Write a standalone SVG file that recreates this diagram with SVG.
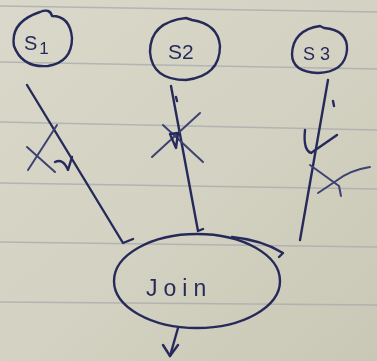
<svg xmlns="http://www.w3.org/2000/svg" width="377" height="361" viewBox="0 0 377 361">
  <defs>
    <linearGradient id="paper" x1="0" y1="0" x2="1" y2="1">
      <stop offset="0" stop-color="#d9d8ca"/>
      <stop offset="0.5" stop-color="#d4d2c2"/>
      <stop offset="1" stop-color="#c9c7b5"/>
    </linearGradient>
    <filter id="soft" x="-5%" y="-5%" width="110%" height="110%">
      <feGaussianBlur stdDeviation="0.6"/>
    </filter>
  </defs>
  <style>
    .rule { stroke: #a9acad; stroke-width: 1.3; fill: none; opacity: 0.8; }
    .ink { stroke: #272b5a; stroke-width: 2.4; fill: none; stroke-linecap: round; stroke-linejoin: round; }
    .mark { stroke: #3c4272; stroke-width: 2; fill: none; stroke-linecap: round; stroke-linejoin: round; }
    .label { font-family: "Liberation Sans", "DejaVu Sans", sans-serif; fill: #272b5a; }
  </style>

  <!-- ruled paper -->
  <rect width="377" height="361" fill="url(#paper)"/>
  <g id="rules">
    <path class="rule" d="M0 6 L377 12"/>
    <path class="rule" d="M0 62 L377 69"/>
    <path class="rule" d="M0 122 L377 130"/>
    <path class="rule" d="M0 183 L377 189"/>
    <path class="rule" d="M0 242 L377 247"/>
    <path class="rule" d="M0 302 L377 305"/>
  </g>

  <g filter="url(#soft)">
    <!-- connectors -->
    <g id="connectors">
      <!-- S1 to Join -->
      <path class="ink" d="M27 85 L123 243 L133 239"/>
      <path class="ink" d="M55 162 Q63 158 68 170 L72 157"/>
      <path class="mark" d="M27 147 L55 172"/>
      <path class="mark" d="M28 170 L57 125"/>
      <!-- S2 to Join -->
      <path class="ink" d="M171 86 L198 231 L203 229"/>
      <path class="ink" d="M176 97 L177 101"/>
      <path class="mark" d="M152 157 L200 113"/>
      <path class="mark" d="M163 125 L203 162"/>
      <path class="ink" d="M170 134 L176 148 L178 133 Z" stroke-width="2"/>
      <!-- S3 to Join -->
      <path class="ink" d="M328 80 L300 240"/>
      <path class="ink" d="M333 101 L334 106"/>
      <path class="ink" d="M305 130 Q303 150 311 153 L337 135"/>
      <path class="mark" d="M310 165 L339 186 L341 196"/>
      <path class="mark" d="M318 193 L336 181 Q350 170 370 167"/>
      <!-- stray stroke on Join -->
      <path class="ink" d="M232 237 Q262 240 283 253 L279 257"/>
      <!-- Join output -->
      <path class="ink" d="M178 328 L170 356"/>
      <path class="ink" d="M163 345 L170 356 L178 345"/>
    </g>

    <!-- nodes -->
    <g id="node-s1">
      <path class="ink" d="M40 12 Q50 8 52 16 Q70 16 72 38 Q72 62 48 66 Q22 68 14 46 Q10 22 40 12 Z"/>
      <text class="label" x="24" y="50" font-size="20">S<tspan font-size="17" dx="2" dy="4">1</tspan></text>
    </g>
    <g id="node-s2">
      <path class="ink" d="M192 20 Q218 24 220 46 Q220 76 186 80 Q152 80 150 52 Q150 22 186 18 Z"/>
      <text class="label" x="168" y="59" font-size="21">S2</text>
    </g>
    <g id="node-s3">
      <path class="ink" d="M324 28 Q348 30 347 50 Q345 72 318 73 Q292 72 292 54 Q293 30 320 26 Z"/>
      <text class="label" x="303" y="60" font-size="18">S 3</text>
    </g>
    <g id="node-join">
      <ellipse class="ink" cx="197" cy="281" rx="83" ry="47"/>
      <text class="label" x="146" y="296" font-size="23" letter-spacing="6">Join</text>
    </g>
  </g>
</svg>
